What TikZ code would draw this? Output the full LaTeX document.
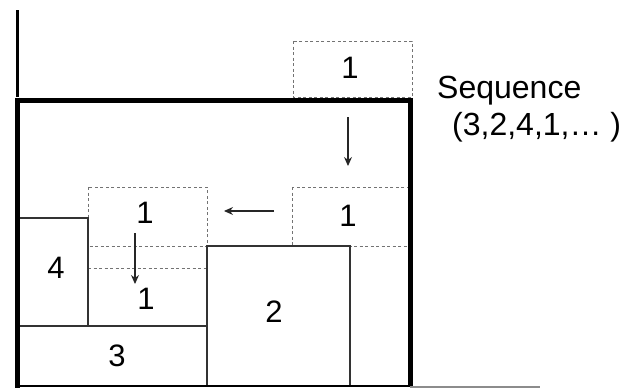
\documentclass[tikz,border=0pt]{standalone}
\usepackage{fontspec}
\setmainfont{Liberation Sans}
\usetikzlibrary{arrows.meta}
\begin{document}
\begin{tikzpicture}[x=1pt,y=-1pt,
  solidbox/.style={draw=black!80,line width=1.3pt},
  dashbox/.style={draw=black!55,line width=1pt,dash pattern=on 3pt off 2.5pt},
  lbl/.style={font=\fontsize{31}{31}\selectfont,inner sep=0pt,anchor=base},
  seqtxt/.style={font=\fontsize{32}{32}\selectfont,inner sep=0pt,anchor=base west},
  mv/.style={-{Stealth[length=9pt,width=8pt]},line width=1.1pt,black!85},
  frame/.style={line width=5pt,black}]
\useasboundingbox (0,0) rectangle (635,388);
% dashed candidate positions
\draw[dashbox] (293,41) rectangle (412,97);
\draw[dashbox] (292,187) rectangle (410,246);
\draw[dashbox] (88,187) rectangle (207,246);
\draw[dashbox] (88,268) -- (207,268);
% placed boxes
\draw[solidbox] (17,218) rectangle (88,326);
\draw[solidbox] (17,326) rectangle (207,386);
\draw[solidbox] (207,246) rectangle (350,386);
% labels
\node[lbl] (top1) at (350,78) {1};
\node[lbl] (right1) at (348,226) {1};
\node[lbl] (left1) at (145,223) {1};
\node[lbl] (low1) at (146,309) {1};
\node[lbl] (b4) at (56,278) {4};
\node[lbl] (b3) at (117,366) {3};
\node[lbl] (b2) at (274,322) {2};
% motion arrows
\coordinate (a1s) at (348,117);
\coordinate (a1e) at (348,166);
\coordinate (a2s) at (274,211);
\coordinate (a2e) at (224,211);
\coordinate (a3s) at (135,233);
\coordinate (a3e) at (135,284);
\draw[mv] (a1s) -- (a1e);
\draw[mv] (a2s) -- (a2e);
\draw[mv] (a3s) -- (a3e);
% container frame
\draw[line width=3pt,black] (17,10) -- (17,97);
\draw[frame] (17,100) -- (410,100) -- (410,386);
\draw[frame] (17,97.5) -- (17,388);
\draw[line width=2.5pt,black] (17,386) -- (410,386);
\draw[line width=1.5pt,black!45] (410,387) -- (540,387);
% sequence text
\node[seqtxt] (seq) at (437,98) {Sequence};
\node[seqtxt] (seqlist) at (452,135) {(3,2,4,1,… )};
\end{tikzpicture}
\end{document}
